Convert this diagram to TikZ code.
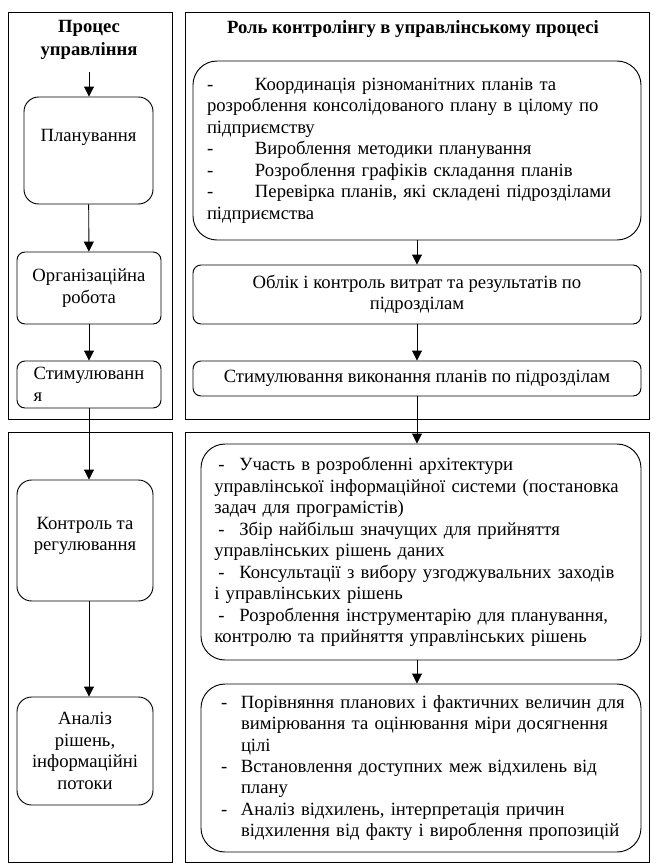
\documentclass[tikz,border=0pt]{standalone}
\usepackage{fontspec}
\setmainfont{Liberation Serif}
\usetikzlibrary{arrows.meta,positioning}
\newcommand{\listdash}[2][0pt]{\hspace*{#1}\makebox[#2][l]{-}}

\begin{document}
\fontsize{14pt}{16.1pt}\selectfont
\begin{tikzpicture}[x=0.75pt, y=-0.75pt,
  frame/.style={draw, line width=0.7pt, inner sep=0pt},
  title/.style={font=\bfseries, align=center},
  stage/.style={draw, line width=0.7pt, rounded corners=#1, align=center},
  stage/.default=6pt,
  role/.style={draw, line width=0.7pt, rounded corners=18pt, align=left},
  flow/.style={-{Triangle[length=7.5pt,width=7.5pt]}, line width=0.7pt}]
  \path[fill=white] (0,0) rectangle (656,865);

  % outer frames
  \node[frame, minimum width=123pt, minimum height=305.25pt] (procTop) at (90,215.5) {};
  \node[frame, minimum width=348pt, minimum height=305.25pt] (roleTop) at (417,215.5) {};
  \node[frame, minimum width=123pt, minimum height=322.5pt] (procBot) at (90,647) {};
  \node[frame, minimum width=348pt, minimum height=322.5pt] (roleBot) at (417,647) {};

  \node[title] (procTitle) at (89,40) {Процес\\[1pt]управління};
  \node[title] (roleTitle) at (413,29) {Роль контролінгу в управлінському процесі};

  % management process
  \coordinate (procStart) at (89,72);
  \node[stage=11pt, minimum width=96.75pt, minimum height=80.25pt] (plan) at (88.5,150.5) {};
  \node (planText) at ([yshift=10pt]plan.center) {Планування};
  \node[stage, minimum width=108pt, minimum height=54pt] (org) at (89,288) {Організаційна\\робота};
  \node[stage, minimum width=108pt, minimum height=35.25pt, align=left] (stim) at (89,384.5) {Стимулюванн\\я};
  \node[stage=11pt, minimum width=102pt, minimum height=90.75pt] (ctrl) at (85,540.5) {};
  \node[align=center] (ctrlText) at ([yshift=3.5pt]ctrl.center) {Контроль та\\регулювання};
  \node[stage=11pt, minimum width=102pt, minimum height=81pt] (anal) at (85,751) {Аналіз\\рішень,\\інформаційні\\потоки};

  % role of controlling
  \node[role, minimum height=134.25pt, text width=315pt, inner xsep=10.5pt] (coord) at (417,150.5) {%
    \listdash{36pt}Координація різноманітних планів та\\
    розроблення консолідованого плану в цілому по\\
    підприємству\\
    \listdash{36pt}Вироблення методики планування\\
    \listdash{36pt}Розроблення графіків складання планів\\
    \listdash{36pt}Перевірка планів, які складені підрозділами\\
    підприємства};
  \node[stage, minimum width=336pt, minimum height=44.25pt] (acct) at (417,294.5) {Облік і контроль витрат та результатів по\\підрозділам};
  \node[stage, minimum width=336pt, minimum height=26.25pt] (motiv) at (417,378.5) {Стимулювання виконання планів по підрозділам};
  \node[role, minimum height=162pt, text width=310pt, inner xsep=10pt] (info) at (421,552) {%
    \listdash[3pt]{15.75pt}Участь в розробленні архітектури\\
    управлінської інформаційної системи (постановка\\
    задач для програмістів)\\
    \listdash[3pt]{15.75pt}Збір найбільш значущих для прийняття\\
    управлінських рішень даних\\
    \listdash[3pt]{15.75pt}Консультації з вибору узгоджувальних заходів\\
    і управлінських рішень\\
    \listdash[3pt]{15.75pt}Розроблення інструментарію для планування,\\
    контролю та прийняття управлінських рішень};
  \node[role, minimum height=126pt, text width=318pt, inner xsep=6pt] (anlz) at (421,768) {%
    \listdash[9pt]{15pt}Порівняння планових і фактичних величин для\\
    \hspace*{24pt}вимірювання та оцінювання міри досягнення\\
    \hspace*{24pt}цілі\\
    \listdash[9pt]{15pt}Встановлення доступних меж відхилень від\\
    \hspace*{24pt}плану\\
    \listdash[9pt]{15pt}Аналіз відхилень, інтерпретація причин\\
    \hspace*{24pt}відхилення від факту і вироблення пропозицій};

  % arrows
  \draw[flow] (procStart) -- (procStart |- plan.north);
  \draw[flow] (plan) -- (org);
  \draw[flow] (org) -- (stim);
  \draw[flow] (stim.south) -- (stim.south |- ctrl.north);
  \draw[flow] (stim.south |- ctrl.south) -- (stim.south |- anal.north);
  \draw[flow] (coord) -- (acct);
  \draw[flow] (acct) -- (motiv);
  \draw[flow] (motiv.south) -- (motiv.south |- info.north);
  \draw[flow] (motiv.south |- info.south) -- (motiv.south |- anlz.north);
\end{tikzpicture}
\end{document}
